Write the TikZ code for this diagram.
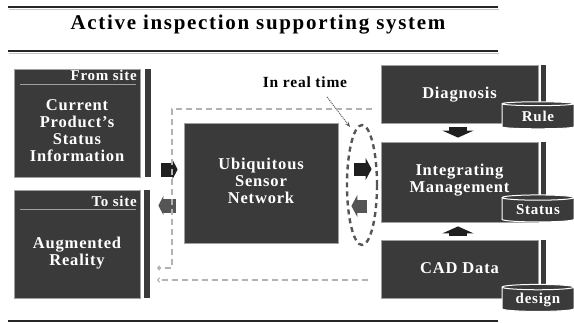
\documentclass[tikz,border=0pt]{standalone}
\usepackage{fontspec}
\setmainfont{Liberation Serif}
\newfontfamily\titlefont[LetterSpace=8]{Liberation Serif}
\newfontfamily\boxfont[LetterSpace=5]{Liberation Serif}
\usetikzlibrary{shapes.geometric,arrows.meta}

\definecolor{boxgrey}{RGB}{58,58,58}
\definecolor{edgegrey}{RGB}{160,160,160}
\definecolor{dashgrey}{RGB}{178,178,178}
\definecolor{loopgrey}{RGB}{85,85,85}

\begin{document}
\begin{tikzpicture}[x=1pt,y=1pt,yscale=-1,
  darkbox/.style={draw=edgegrey,fill=boxgrey,line width=0.8,inner sep=0pt},
  boxtext/.style={text=white,font=\boxfont\bfseries\fontsize{16.5}{17}\selectfont,align=center,inner sep=0pt},
  headtext/.style={text=white,font=\boxfont\bfseries\fontsize{15}{15}\selectfont,inner sep=0pt},
  sidebar/.style={fill=boxgrey},
  dbcyl/.style={cylinder,shape border rotate=90,aspect=0.12,draw=white,line width=1,fill=boxgrey,text=white,font=\boxfont\bfseries\fontsize{15}{15}\selectfont,minimum width=72,minimum height=27,inner sep=0pt},
  sidearrow/.style={line width=14,-{Triangle[length=5pt,width=19pt]}},
  rtarrow/.style={line width=13,-{Triangle[length=6pt,width=22pt]}},
  stackarrow/.style={black!88,line width=18,-{Triangle[length=7pt,width=31pt]},shorten <=4,shorten >=4},
  feedback/.style={draw=dashgrey,line width=1.1,dash pattern=on 6pt off 4pt,-{To[length=3pt,width=5pt]}}
]
\useasboundingbox (0,0) rectangle (574,322);

%Title bar
\draw [gray!45,line width=1.5] (9,9.5) -- (499,9.5);
\draw [black!85,line width=2] (8,7) -- (498,7);
\draw [gray!45,line width=1.5] (9,53.5) -- (499,53.5);
\draw [black!85,line width=2] (8,51) -- (498,51);
\node [font=\titlefont\bfseries\fontsize{21}{21}\selectfont] (title) at (258,25) {Active inspection supporting system};
\draw [black!85,line width=2] (8,321) -- (498,321);

%Left side: from site / to site
\node [darkbox,minimum width=126,minimum height=108] (cur) at (77,123) {};
\node [headtext,anchor=base east] (fromsite) at (137,80.5) {From site};
\draw [edgegrey,line width=1.5] (20,84.5) -- (136,84.5);
\node [boxtext] (curtext) at (77,131) {Current\\Product’s\\Status\\Information};
\fill [sidebar] (145,69) rectangle (151,177);

\node [darkbox,minimum width=126,minimum height=108] (ar) at (77,244) {};
\node [headtext,anchor=base east] (tosite) at (137,206) {To site};
\draw [edgegrey,line width=1.5] (20,209.5) -- (136,209.5);
\node [boxtext] (artext) at (77,253) {Augmented\\Reality};
\fill [sidebar] (144,190) rectangle (150,298);

%Middle
\node [darkbox,minimum width=154,minimum height=120] (usn) at (261,183) {};
\node [boxtext] (usntext) at (261,181) {Ubiquitous\\Sensor\\Network};

\draw [sidearrow,black!88,shorten <=21,shorten >=6] (cur.east |- 0,169.5) -- (usn.west |- 0,169.5);
\draw [sidearrow,loopgrey,shorten <=8,shorten >=18] (usn.west |- 0,205.5) -- (ar.east |- 0,205.5);

%Right side
\node [darkbox,minimum width=157,minimum height=58] (diag) at (459.5,94) {};
\node [boxtext] (diagtext) at (459.5,95) {Diagnosis};
\fill [sidebar] (541,65) rectangle (546,123);
\node [dbcyl] (rule) at (538,116.5) {Rule};

\node [darkbox,minimum width=157,minimum height=80] (mgmt) at (459.5,182) {};
\node [boxtext] (mgmttext) at (459.5,180) {Integrating\\Management};
\fill [sidebar] (541,142) rectangle (546,222);
\node [dbcyl] (status) at (538,210) {Status};

\node [darkbox,minimum width=157,minimum height=58] (cad) at (459.5,269) {};
\node [boxtext] (cadtext) at (459.5,268) {CAD Data};
\fill [sidebar] (541,240) rectangle (546,298);
\node [dbcyl] (design) at (538,299.5) {design};

\draw [stackarrow] (diag.south -| 458,0) -- (mgmt.north -| 458,0);
\draw [stackarrow] (cad.north -| 458,0) -- (mgmt.south -| 458,0);

%Real time link
\draw [rtarrow,black!88,shorten <=16,shorten >=9] (usn.east |- 0,169) -- (mgmt.west |- 0,169);
\draw [rtarrow,loopgrey,shorten <=14,shorten >=13] (mgmt.west |- 0,206) -- (usn.east |- 0,206);
\node [ellipse,draw=loopgrey,line width=2.4,dash pattern=on 5pt off 4pt,minimum width=30,minimum height=120,inner sep=0pt] (rtloop) at (362,185) {};
\node [font=\boxfont\bfseries\fontsize{15.5}{15.5}\selectfont,inner sep=0pt] (rtlabel) at (305,82) {In real time};
\coordinate (rtstart) at (327,97);
\coordinate (rttip) at (350,127);
\draw [loopgrey,line width=1,densely dotted,-{Stealth[length=5pt,width=4pt]}] (rtstart) -- (rttip);

%Feedback to site
\coordinate (fbin) at (372,109);
\coordinate (fbcorner) at (172,109);
\coordinate (fbdown) at (172,268);
\coordinate (fbend) at (157,268);
\draw [feedback] (fbin) -- (fbcorner) -- (fbdown) -- (fbend);
\coordinate (fbout) at (368,280);
\coordinate (fbback) at (157,280);
\draw [feedback] (fbout) -- (fbback);

\end{tikzpicture}
\end{document}
